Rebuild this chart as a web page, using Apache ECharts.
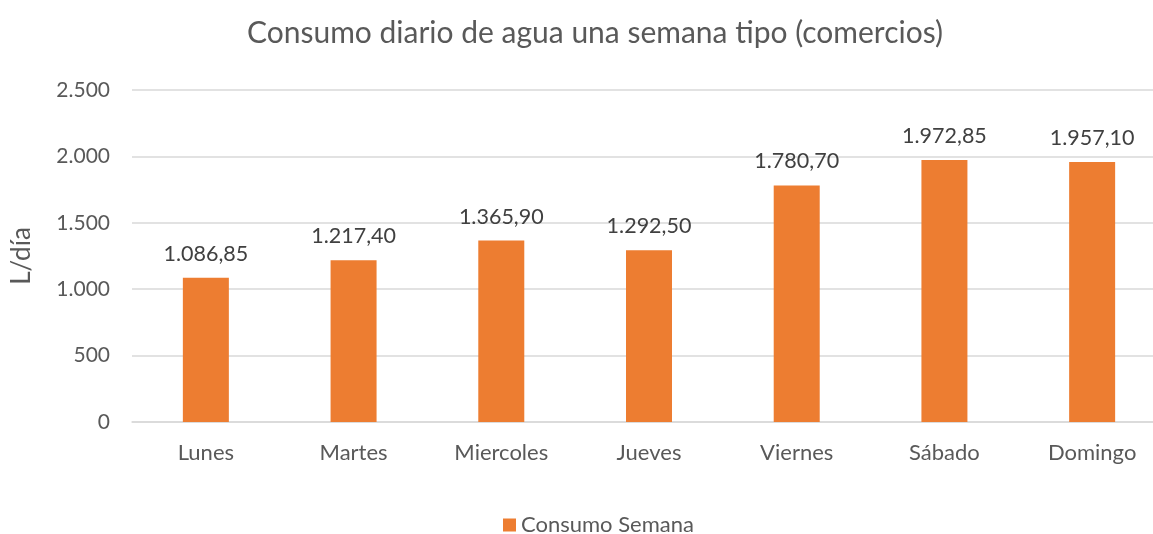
<!DOCTYPE html>
<html><head><meta charset="utf-8">
<script src="https://cdn.jsdelivr.net/npm/echarts@6/dist/echarts.min.js"></script>
<style>html,body{margin:0;padding:0;background:#fff;overflow:hidden}#c{width:1170px;height:534px}</style>
</head><body><div id="c"></div>
<script>
const categories = ['Lunes','Martes','Miercoles','Jueves','Viernes','Sábado','Domingo'];
const consumoSemana = [1086.85, 1217.40, 1365.90, 1292.50, 1780.70, 1972.85, 1957.10];
const seriesName = 'Consumo Semana';
const titleText = 'Consumo diario de agua una semana tipo (comercios)';
const yAxisName = 'L/día';

function fmtThousands(n){ return String(n).replace(/\B(?=(\d{3})+(?!\d))/g, '.'); }
function fmtDec(v){
  const parts = v.toFixed(2).split('.');
  return fmtThousands(parts[0]) + ',' + parts[1];
}
const FONT = 'Lato, "Open Sans", sans-serif';
const chart = echarts.init(document.getElementById('c'));
chart.setOption({
  animation:false,
  textStyle:{fontFamily:FONT},
  title:{text:titleText,left:590,textAlign:'center',top:13,
    textStyle:{fontFamily:FONT,fontSize:30,fontWeight:'normal',color:'#595959'}},
  legend:{data:[seriesName],bottom:-7,left:498,itemWidth:13,itemHeight:13,itemGap:6,
    icon:'rect',textStyle:{fontFamily:FONT,fontSize:22,color:'#595959'}},
  grid:{left:132,right:4,top:90,bottom:112,containLabel:false},
  xAxis:{type:'category',data:categories,
    axisLine:{lineStyle:{color:'#d9d9d9',width:1.5}},axisTick:{show:false},
    axisLabel:{fontFamily:FONT,fontSize:22,color:'#595959',margin:20}},
  yAxis:{type:'value',min:0,max:2500,interval:500,
    name:yAxisName,nameLocation:'middle',nameGap:97,nameRotate:90,
    nameTextStyle:{fontFamily:FONT,fontSize:26,color:'#595959'},
    axisLine:{show:false},axisTick:{show:false},
    splitLine:{lineStyle:{color:'#d9d9d9',width:1.5}},
    axisLabel:{fontFamily:FONT,fontSize:21,color:'#595959',margin:22,formatter:v=>fmtThousands(v)}},
  series:[{name:seriesName,type:'bar',data:consumoSemana,barWidth:46,
    itemStyle:{color:'#ED7D31'},
    label:{show:true,position:'top',distance:13,fontFamily:FONT,fontSize:21.5,color:'#404040',
      formatter:p=>fmtDec(p.value)}}]
});
</script></body></html>
